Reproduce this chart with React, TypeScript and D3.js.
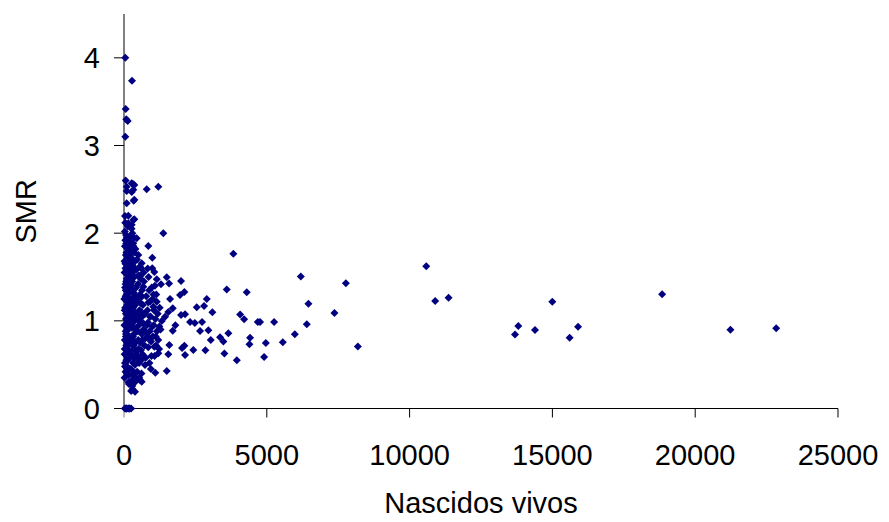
import React from 'react';
import * as d3 from 'd3';

// pontos isolados (municípios grandes)
const farNascidos = [5561, 5981, 6192, 6402, 6458, 7369, 7768, 8189, 10582, 10897, 11364, 13690, 13806, 14391, 14997, 15603, 15898, 18841, 21234, 22836];
const farSMR = [0.756, 0.847, 1.505, 0.961, 1.196, 1.089, 1.428, 0.706, 1.623, 1.227, 1.262, 0.843, 0.942, 0.896, 1.219, 0.808, 0.933, 1.304, 0.899, 0.915];

// faixa intermediária
const midNascidos = [
  795, 1202, 340, 1377, 851, 992, 3830, 830, 1062, 1146,
  1296, 1496, 1577, 1997, 2113, 1962, 3598, 4299, 2898, 2547,
  2803, 3094, 4065, 4205, 4685, 4765, 5256, 4965, 4906, 4415,
  4391, 3949, 3655, 3515, 3364, 3480, 3038, 2954, 2663, 2733,
  2849, 2428, 2313, 2480, 2137, 1997, 2113, 2032, 2137, 1798,
  1706, 1587, 1552, 1496, 1097, 1612, 1706, 1552, 1437, 1321,
  1237, 1111, 992, 911, 1027, 1146, 851, 946, 1062, 1202,
  736, 620, 561, 385, 291, 501, 596, 795, 676, 561,
  620, 676, 561, 620, 501, 445, 326, 326, 270, 151,
  35, 361, 95, 326, 305, 95,
];
const midSMR = [
  2.5, 2.53, 2.37, 2.0, 1.855, 1.72, 1.764, 1.596, 1.558, 1.475,
  1.418, 1.498, 1.425, 1.455, 1.33, 1.296, 1.356, 1.326, 1.25, 1.155,
  1.17, 1.098, 1.071, 1.018, 0.987, 0.987, 0.987, 0.748, 0.588, 0.808,
  0.733, 0.55, 0.858, 0.626, 0.813, 0.763, 0.782, 0.893, 0.885, 0.987,
  0.664, 0.668, 0.987, 0.975, 1.075, 1.067, 0.717, 0.69, 0.61, 0.95,
  0.888, 0.725, 0.619, 0.428, 0.409, 1.25, 1.144, 1.1, 1.048, 0.999,
  0.934, 0.82, 0.934, 1.048, 1.162, 1.219, 1.208, 0.763, 0.705, 0.63,
  0.497, 0.306, 0.325, 0.192, 0.257, 0.554, 0.668, 0.858, 0.973, 1.087,
  1.276, 1.39, 1.505, 1.657, 1.752, 1.943, 1.886, 2.15, 2.095, 2.114,
  2.197, 2.16, 2.34, 2.494, 2.563, 2.53,
];

// valores altos perto de zero
const topNascidos = [46, 280, 60, 80, 130, 46, 60, 270, 361, 95, 270, 361];
const topSMR = [4.0, 3.74, 3.415, 3.3, 3.28, 3.1, 2.6, 2.57, 2.55, 2.48, 2.47, 2.38];

// SMR = 0
const zeroNascidos = [30, 60, 80, 100, 150, 180, 200, 250];
const zeroSMR = [0, 0, 0, 0, 0, 0, 0, 0];

// coluna densa (municípios pequenos)
const densoNascidos = [
  20, 35, 50, 70, 90, 110, 130, 150, 170, 190,
  30, 45, 65, 85, 105, 125, 145, 165, 185, 200,
  25, 40, 55, 75, 95, 115, 135, 155, 175, 195,
  20, 38, 58, 78, 98, 118, 138, 158, 178, 198,
  28, 48, 68, 88, 108, 128, 148, 168, 188, 208,
  33, 53, 73, 93, 113, 133, 153, 173, 193, 213,
  220, 240, 260, 280, 300, 320, 340, 360, 380, 400,
  230, 250, 270, 290, 310, 330, 350, 370, 390, 410,
  225, 245, 265, 285, 305, 325, 345, 365, 385, 405,
  235, 255, 275, 295, 315, 335, 355, 375, 395, 420,
  215, 265, 300, 345, 380, 430, 440, 425, 445, 415,
  460, 480, 500, 520, 540, 560, 580, 600, 620, 640,
  470, 490, 510, 530, 550, 570, 590, 610, 630, 650,
  660, 680, 700, 720, 740, 760, 780, 800, 690, 750,
  455, 475, 495, 515, 535, 555, 575, 595, 615, 635,
  820, 850, 880, 900, 930, 960, 1000, 1040, 1080, 1120,
  860, 890, 920, 970, 1010, 1050, 1100, 1150, 1200, 1250,
  840, 870, 940, 990, 1030, 1070, 1130, 1180, 1230, 1280,
];
const densoSMR = [
  0.35, 0.52, 0.68, 0.85, 1.02, 1.18, 1.35, 1.52, 1.68, 1.85,
  2.02, 1.92, 1.75, 1.58, 1.42, 1.25, 1.08, 0.92, 0.75, 0.58,
  1.12, 0.95, 1.28, 1.45, 0.62, 0.78, 1.62, 1.95, 0.45, 1.05,
  1.55, 1.38, 0.88, 0.72, 1.22, 1.88, 0.55, 1.15, 1.32, 0.82,
  0.78, 1.65, 1.08, 1.78, 0.48, 0.98, 1.72, 0.38, 1.48, 1.2,
  1.85, 0.42, 1.98, 1.3, 0.66, 2.08, 0.3, 1.0, 1.6, 0.95,
  0.28, 0.45, 0.62, 0.8, 0.98, 1.15, 1.32, 1.5, 1.68, 1.82,
  1.9, 1.72, 1.55, 1.38, 1.2, 1.02, 0.85, 0.68, 0.5, 0.35,
  1.08, 1.25, 0.92, 1.45, 0.72, 1.62, 0.58, 1.1, 1.28, 0.9,
  0.62, 1.4, 1.18, 1.65, 0.82, 0.42, 1.78, 1.0, 0.75, 1.22,
  1.52, 2.05, 0.22, 1.95, 0.3, 1.05, 0.88, 1.38, 0.65, 1.58,
  0.42, 0.6, 0.78, 0.95, 1.12, 1.3, 1.48, 1.6, 0.85, 1.05,
  1.25, 1.42, 0.68, 0.52, 1.0, 0.75, 1.2, 0.4, 1.35, 0.62,
  1.18, 0.9, 1.45, 0.72, 1.08, 0.58, 1.28, 0.95, 1.55, 0.8,
  1.7, 0.88, 1.05, 1.52, 0.35, 1.62, 0.98, 0.55, 1.1, 0.78,
  1.12, 0.7, 1.35, 0.88, 1.05, 0.6, 1.25, 0.95, 1.4, 0.72,
  1.5, 0.52, 1.22, 1.38, 0.82, 1.12, 1.02, 0.88, 0.78, 1.15,
  0.98, 0.8, 0.45, 1.6, 1.3, 0.6, 1.3, 1.08, 0.68, 0.9,
];

// mais municípios muito pequenos (preenchem a coluna)
const coluna2Nascidos = [
  15, 42, 62, 82, 102, 122, 142, 162, 182, 202,
  18, 36, 56, 76, 96, 116, 136, 156, 176, 196,
  22, 44, 66, 86, 106, 126, 146, 166, 186, 206,
  240, 262, 284, 306, 328, 350, 372, 394, 250, 310,
  270, 330, 290, 360, 230, 320, 280, 340, 260, 300,
  12, 26, 52, 72, 92, 112, 132, 152, 172, 192,
];
const coluna2SMR = [
  0.95, 1.15, 1.35, 0.55, 0.75, 1.55, 1.75, 0.65, 1.95, 1.12,
  1.68, 0.48, 1.42, 1.88, 0.88, 1.28, 0.72, 1.82, 1.05, 0.66,
  0.62, 2.12, 0.82, 1.02, 1.95, 0.58, 1.22, 1.48, 1.62, 1.38,
  1.1, 0.78, 0.98, 1.52, 1.32, 0.6, 0.92, 1.18, 0.2, 0.38,
  0.32, 1.85, 2.0, 1.08, 1.42, 0.52, 1.78, 0.72, 1.25, 1.62,
  1.25, 0.68, 1.6, 1.02, 1.48, 0.4, 0.9, 2.2, 0.28, 1.8,
];

const xTicks = [0, 5000, 10000, 15000, 20000, 25000];
const yTicks = [0, 1, 2, 3, 4];

const W = 889;
const H = 522;
const margin = { top: 14, right: 51, bottom: 113.5, left: 124 };

const App = () => {
  const x = d3.scaleLinear().domain([0, 25000]).range([margin.left, W - margin.right]);
  const y = d3.scaleLinear().domain([0, 4.5]).range([H - margin.bottom, margin.top]);

  const grupos = [
    [densoNascidos, densoSMR],
    [coluna2Nascidos, coluna2SMR],
    [midNascidos, midSMR],
    [topNascidos, topSMR],
    [zeroNascidos, zeroSMR],
    [farNascidos, farSMR],
  ];
  const pontos: [number, number][] = [];
  grupos.forEach(([xs, ys]) => xs.forEach((v, i) => pontos.push([v, ys[i]])));

  const diamond = 'M0,-4L4,0L0,4L-4,0Z';
  const font = 'Liberation Sans, Arial, sans-serif';
  const y0 = y(0);
  const x0 = x(0);

  return (
    <div style={{ position: 'absolute', left: 0, top: 0 }}>
      <svg width={W} height={H} style={{ display: 'block', background: '#fff' }}>
        {/* eixo x */}
        <line x1={x0} x2={x(25000)} y1={y0} y2={y0} stroke="#000" strokeWidth={1} />
        {xTicks.map(t => (
          <g key={'x' + t}>
            <line x1={x(t)} x2={x(t)} y1={y0} y2={y0 + 9} stroke={t === 0 ? '#808080' : '#000'} strokeWidth={1} />
            <text x={x(t)} y={y0 + 56} textAnchor="middle" fontFamily={font} fontSize={29} fill="#000">
              {t}
            </text>
          </g>
        ))}
        {/* eixo y */}
        <line x1={x0} x2={x0} y1={y(4.5)} y2={y0} stroke="#808080" strokeWidth={2} />
        {yTicks.map(t => (
          <g key={'y' + t}>
            <line x1={x0 - 10} x2={x0} y1={y(t)} y2={y(t)} stroke="#000" strokeWidth={1} />
            <text x={x0 - 24} y={y(t) + 10.5} textAnchor="end" fontFamily={font} fontSize={29} fill="#000">
              {t}
            </text>
          </g>
        ))}
        {pontos.map((p, i) => (
          <path key={i} d={diamond} transform={`translate(${x(p[0])},${y(p[1])})`} fill="#000080" />
        ))}
        <text x={(x0 + x(25000)) / 2} y={513} textAnchor="middle" fontFamily={font} fontSize={29} fill="#000">
          Nascidos vivos
        </text>
        <text
          transform={`translate(36,${(y(4.5) + y0) / 2}) rotate(-90)`}
          textAnchor="middle"
          fontFamily={font}
          fontSize={29}
          fill="#000"
        >
          SMR
        </text>
      </svg>
    </div>
  );
};

export default App;
